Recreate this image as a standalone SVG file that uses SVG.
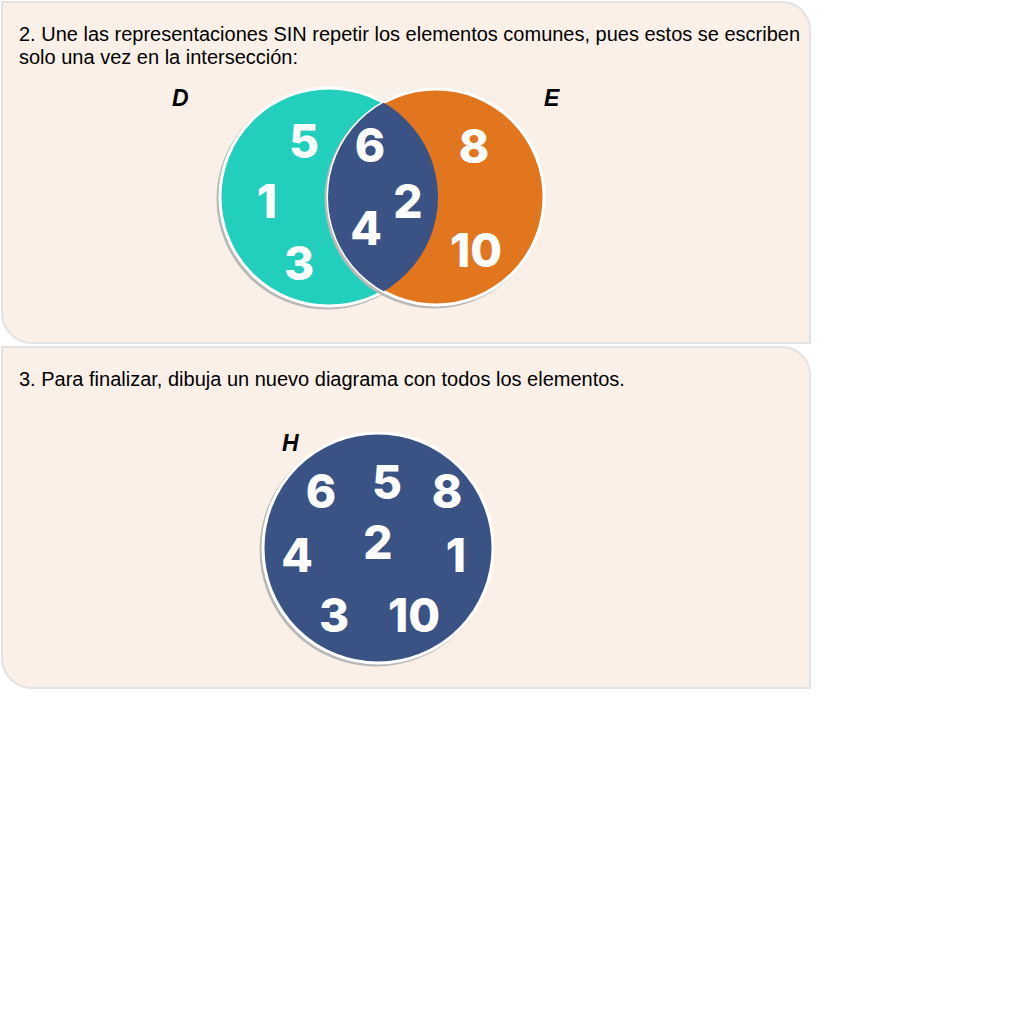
<svg xmlns="http://www.w3.org/2000/svg" width="1024" height="1024" viewBox="0 0 1024 1024">
<style>
.panel{fill:#faf0e8;stroke:#e3e3e3;stroke-width:2}
.q{font-family:"Liberation Sans",Arial,sans-serif;font-size:20px;fill:#000}
.lbl{font-family:"Liberation Sans",Arial,sans-serif;font-size:23px;font-weight:bold;font-style:italic;fill:#000}
.num{font-family:Inter,"Open Sans",sans-serif;font-weight:800;font-size:46px;fill:#fff;text-anchor:middle}
.shadow{fill:none;stroke:#b8b8b8;stroke-width:3}
.ring{stroke:#fff;stroke-width:3}
</style>
<defs>
<clipPath id="clipD"><circle cx="329" cy="197" r="109"/></clipPath>
</defs>
<rect width="1024" height="1024" fill="#fff"/>
<g id="panel1">
<path class="panel" d="M2,2 H782 A28,28 0 0 1 810,30 V343 H32 A30,30 0 0 1 2,313 Z"/>
<text class="q" x="19" y="41" textLength="781" lengthAdjust="spacingAndGlyphs">2. Une las representaciones SIN repetir los elementos comunes, pues estos se escriben</text>
<text class="q" x="19" y="64">solo una vez en la intersección:</text>
</g>
<g id="panel2">
<path class="panel" d="M2,347 H782 A28,28 0 0 1 810,375 V688 H32 A30,30 0 0 1 2,658 Z"/>
<text class="q" x="19" y="386">3. Para finalizar, dibuja un nuevo diagrama con todos los elementos.</text>
</g>
<g id="setD">
<circle class="shadow" cx="327" cy="199" r="109"/>
<circle class="ring" cx="329" cy="197" r="109" fill="#22cfbd"/>
<text class="lbl" x="172" y="106">D</text>
</g>
<g id="setE">
<circle class="shadow" cx="434" cy="199" r="108"/>
<circle class="ring" cx="436" cy="197" r="108" fill="#e1761e"/>
<text class="lbl" x="544" y="106">E</text>
</g>
<g id="intersection">
<circle cx="436" cy="197" r="108" fill="#3a5284" clip-path="url(#clipD)"/>
</g>
<g id="venn-elements">
<text class="num" x="304" y="158">5</text>
<text class="num" x="267" y="218">1</text>
<text class="num" x="299" y="280">3</text>
<text class="num" x="370" y="162">6</text>
<text class="num" x="408" y="218">2</text>
<text class="num" x="366" y="245">4</text>
<text class="num" x="474" y="163">8</text>
<text class="num" x="476" y="267">10</text>
</g>
<g id="setH">
<circle class="shadow" cx="376" cy="550" r="115"/>
<circle class="ring" cx="378" cy="548" r="115" fill="#3a5284"/>
<text class="lbl" x="282" y="451">H</text>
<text class="num" x="321" y="508">6</text>
<text class="num" x="387" y="499">5</text>
<text class="num" x="447" y="508">8</text>
<text class="num" x="378" y="559">2</text>
<text class="num" x="297" y="572">4</text>
<text class="num" x="456" y="572">1</text>
<text class="num" x="334" y="632">3</text>
<text class="num" x="414" y="632">10</text>
</g>
<g id="connectors"/>
</svg>
